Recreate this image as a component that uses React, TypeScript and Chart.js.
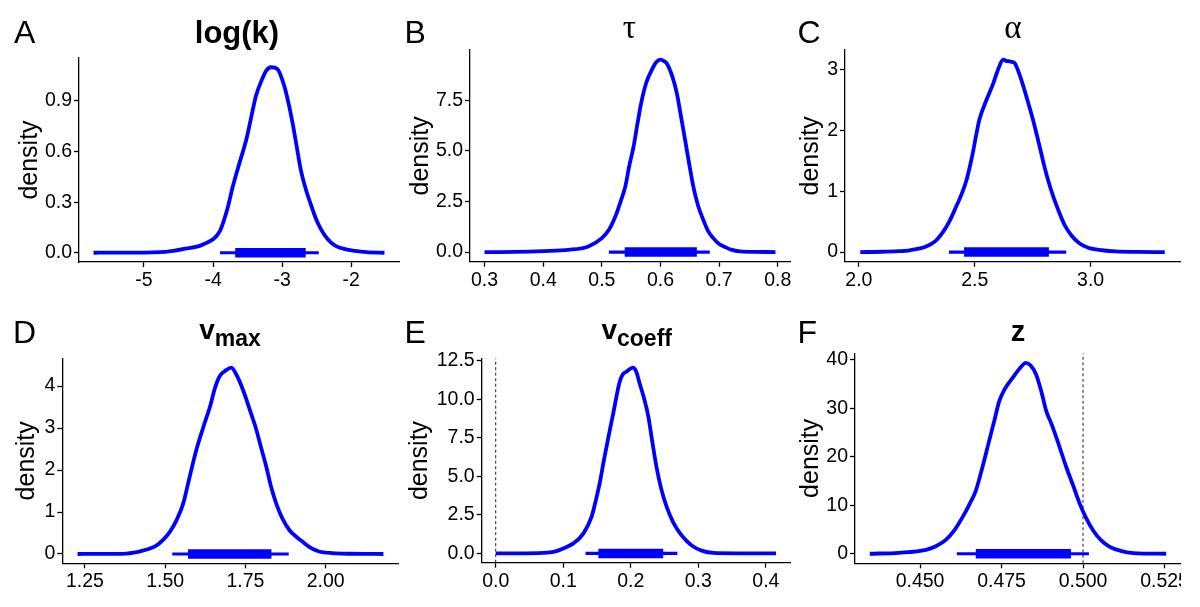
import React, { useEffect, useRef } from "react";
import { Chart, registerables } from "chart.js";

Chart.register(...registerables);

const FONT = "'Liberation Sans', Arial, sans-serif";
const SERIF = "'Liberation Serif', 'Times New Roman', serif";
const BLUE = "#0000ff";

// ---------- Panel A: log(k) ----------
const logkX = [-5.73, -5.2, -4.69, -4.4, -4.14, -3.9, -3.8, -3.71, -3.62, -3.52, -3.45, -3.38, -3.3, -3.23, -3.16, -3.07, -2.97, -2.91, -2.85, -2.79, -2.73, -2.66, -2.58, -2.51, -2.44, -2.34, -2.24, -2.02, -1.78, -1.52];
const logkY = [0, 0.0005, 0.005, 0.024, 0.05, 0.13, 0.25, 0.4, 0.53, 0.67, 0.8, 0.93, 1.02, 1.08, 1.1, 1.09, 0.99, 0.89, 0.77, 0.63, 0.49, 0.38, 0.28, 0.2, 0.14, 0.08, 0.043, 0.015, 0.003, 0];
const logkThin = [-3.9, -2.47];
const logkThick = [-3.68, -2.66];
const logkXTicks = [-5, -4, -3, -2];
const logkYTicks = [0, 0.3, 0.6, 0.9];

// ---------- Panel B: tau ----------
const tauX = [0.3, 0.35, 0.401, 0.443, 0.477, 0.5, 0.512, 0.523, 0.532, 0.54, 0.547, 0.554, 0.561, 0.568, 0.576, 0.585, 0.593, 0.6, 0.606, 0.611, 0.62, 0.628, 0.635, 0.642, 0.649, 0.656, 0.664, 0.673, 0.681, 0.69, 0.7, 0.71, 0.72, 0.736, 0.76, 0.796];
const tauY = [0, 0.01, 0.05, 0.11, 0.28, 0.69, 1.1, 1.76, 2.5, 3.24, 4.3, 5.2, 6.4, 7.5, 8.4, 9.0, 9.4, 9.52, 9.45, 9.32, 8.7, 7.84, 6.7, 5.54, 4.35, 3.24, 2.3, 1.59, 1.05, 0.69, 0.4, 0.25, 0.12, 0.03, 0.01, 0];
const tauThin = [0.512, 0.684];
const tauThick = [0.539, 0.662];
const tauXTicks = [0.3, 0.4, 0.5, 0.6, 0.7, 0.8];
const tauYTicks = [0, 2.5, 5, 7.5];

// ---------- Panel C: alpha ----------
const alphaX = [2.006, 2.1, 2.17, 2.22, 2.29, 2.33, 2.365, 2.39, 2.42, 2.445, 2.465, 2.49, 2.505, 2.52, 2.55, 2.58, 2.6, 2.623, 2.636, 2.651, 2.663, 2.673, 2.7, 2.723, 2.75, 2.78, 2.8, 2.816, 2.84, 2.866, 2.89, 2.92, 2.95, 2.99, 3.05, 3.11, 3.2, 3.32];
const alphaY = [0, 0.005, 0.015, 0.03, 0.09, 0.18, 0.34, 0.5, 0.75, 0.97, 1.19, 1.6, 1.9, 2.18, 2.5, 2.78, 3.0, 3.17, 3.15, 3.14, 3.13, 3.11, 2.85, 2.56, 2.2, 1.74, 1.42, 1.19, 0.9, 0.64, 0.43, 0.26, 0.15, 0.07, 0.03, 0.01, 0.003, 0];
const alphaThin = [2.389, 2.895];
const alphaThick = [2.454, 2.82];
const alphaXTicks = [2.0, 2.5, 3.0];
const alphaYTicks = [0, 1, 2, 3];

// ---------- Panel D: v_max ----------
const vmaxX = [1.227, 1.3, 1.378, 1.43, 1.472, 1.495, 1.514, 1.535, 1.556, 1.575, 1.597, 1.62, 1.64, 1.655, 1.67, 1.69, 1.706, 1.72, 1.742, 1.763, 1.784, 1.8, 1.815, 1.83, 1.846, 1.865, 1.888, 1.91, 1.93, 1.955, 1.98, 2.02, 2.076, 2.18];
const vmaxY = [0, 0.002, 0.01, 0.08, 0.2, 0.35, 0.52, 0.8, 1.2, 1.8, 2.48, 3.05, 3.52, 3.95, 4.24, 4.38, 4.44, 4.3, 3.92, 3.45, 2.96, 2.5, 2.08, 1.6, 1.2, 0.85, 0.56, 0.4, 0.28, 0.14, 0.06, 0.02, 0.005, 0];
const vmaxThin = [1.522, 1.885];
const vmaxThick = [1.571, 1.831];
const vmaxXTicks = [1.25, 1.5, 1.75, 2.0];
const vmaxYTicks = [0, 1, 2, 3, 4];

// ---------- Panel E: v_coeff ----------
const vcoeffX = [0, 0.04, 0.076, 0.09, 0.1, 0.115, 0.13, 0.142, 0.148, 0.154, 0.16, 0.167, 0.175, 0.183, 0.188, 0.194, 0.203, 0.208, 0.213, 0.22, 0.226, 0.232, 0.238, 0.245, 0.253, 0.263, 0.273, 0.283, 0.293, 0.305, 0.322, 0.36, 0.415];
const vcoeffY = [0, 0.005, 0.05, 0.15, 0.32, 0.65, 1.3, 2.38, 3.4, 4.55, 6.0, 7.57, 9.3, 11.04, 11.6, 11.8, 12.05, 11.8, 11.04, 10.0, 8.87, 7.2, 5.62, 4.2, 3.03, 2.0, 1.3, 0.8, 0.43, 0.18, 0.03, 0.005, 0];
const vcoeffThin = [0.133, 0.269];
const vcoeffThick = [0.152, 0.248];
const vcoeffXTicks = [0, 0.1, 0.2, 0.3, 0.4];
const vcoeffYTicks = [0, 2.5, 5, 7.5, 10, 12.5];
const vcoeffRef = [0];

// ---------- Panel F: z ----------
const zX = [0.4346, 0.4435, 0.4518, 0.455, 0.458, 0.4605, 0.463, 0.465, 0.4671, 0.469, 0.4712, 0.4728, 0.4743, 0.476, 0.4784, 0.4805, 0.4825, 0.484, 0.4856, 0.4872, 0.4887, 0.4902, 0.4918, 0.4933, 0.4949, 0.497, 0.499, 0.501, 0.5031, 0.5055, 0.5082, 0.5115, 0.5154, 0.5255];
const zY = [0, 0.2, 0.8, 1.6, 2.9, 4.8, 7.5, 10, 13, 17.5, 23.3, 27.5, 31.5, 34, 36.3, 38.2, 39.4, 38.8, 37, 33.5, 29.5, 27, 24, 21, 17.8, 14, 10.3, 7.3, 4.8, 2.8, 1.4, 0.6, 0.15, 0];
const zThin = [0.4613, 0.5018];
const zThick = [0.4671, 0.4963];
const zXTicks = [0.45, 0.475, 0.5, 0.525];
const zYTicks = [0, 10, 20, 30, 40];
const zRef = [0.5];

interface Lay {
  left: number;
  top: number;
  w: number;
  h: number;
  yAxisW: number;
  xAxisH: number;
  padTop: number;
  padRight: number;
  titlePad: number;
}

interface PanelProps {
  xs: number[];
  ys: number[];
  thin: number[];
  thick: number[];
  xTicks: number[];
  yTicks: number[];
  xDec: number;
  yDec: number;
  refs: number[];
  lay: Lay;
}

const TICK_SIZE = 19.5;
const AXIS_TITLE_SIZE = 25;

function Panel({ xs, ys, thin, thick, xTicks, yTicks, xDec, yDec, refs, lay }: PanelProps) {
  const ref = useRef<HTMLCanvasElement>(null);
  useEffect(() => {
    const canvas = ref.current;
    if (!canvas) return;
    const yPeak = Math.max(...ys);
    const x0 = Math.min(...xs);
    const x1 = Math.max(...xs);
    const span = x1 - x0;
    const xMin = x0 - 0.05 * span;
    const xMax = x1 + 0.05 * span;
    const yMin = -0.05 * yPeak;
    const yMax = yPeak * 1.05;
    const datasets: any[] = [
      {
        data: xs.map((x, i) => ({ x, y: ys[i] })),
        borderColor: BLUE,
        borderWidth: 3.8,
        pointRadius: 0,
        cubicInterpolationMode: "monotone",
        fill: false,
        borderJoinStyle: "round",
      },
      {
        data: [
          { x: thick[0], y: 0 },
          { x: thick[1], y: 0 },
        ],
        borderColor: BLUE,
        borderWidth: 9.5,
        pointRadius: 0,
        borderCapStyle: "butt",
        fill: false,
      },
      {
        data: [
          { x: thin[0], y: 0 },
          { x: thin[1], y: 0 },
        ],
        borderColor: BLUE,
        borderWidth: 3.2,
        pointRadius: 0,
        borderCapStyle: "butt",
        fill: false,
      },
      ...refs.map((r) => ({
        data: [
          { x: r, y: yMin },
          { x: r, y: yMax },
        ],
        borderColor: "#222",
        borderWidth: 1,
        borderDash: [3, 2.5],
        pointRadius: 0,
        fill: false,
      })),
    ];
    const axisCommon = {
      border: { display: true, color: "#000", width: 1.3 },
      grid: {
        display: true,
        drawOnChartArea: false,
        drawTicks: true,
        tickLength: 5,
        tickWidth: 1.3,
        color: "#000",
        tickColor: "#000",
      },
    };
    const chart = new Chart(canvas, {
      type: "line",
      data: { datasets },
      options: {
        animation: false,
        responsive: false,
        maintainAspectRatio: false,
        events: [],
        layout: { padding: { left: 0, top: lay.padTop, right: lay.padRight, bottom: 0 } },
        plugins: {
          legend: { display: false },
          tooltip: { enabled: false },
          title: { display: false },
        },
        scales: {
          x: {
            type: "linear",
            position: "bottom",
            min: xMin,
            max: xMax,
            ...axisCommon,
            ticks: {
              color: "#000",
              font: { family: FONT, size: TICK_SIZE },
              padding: 2,
              autoSkip: false,
              maxRotation: 0,
              minRotation: 0,
              callback: (v: any) => Number(v).toFixed(xDec),
            },
            afterBuildTicks: (s: any) => {
              s.ticks = xTicks.map((v) => ({ value: v }));
            },
            afterFit: (s: any) => {
              s.height = lay.xAxisH;
              s.paddingLeft = 0;
              s.paddingRight = 0;
            },
          },
          y: {
            type: "linear",
            position: "left",
            min: yMin,
            max: yMax,
            ...axisCommon,
            ticks: {
              color: "#000",
              font: { family: FONT, size: TICK_SIZE },
              padding: 2,
              autoSkip: false,
              callback: (v: any) => Number(v).toFixed(yDec),
            },
            title: {
              display: true,
              text: "density",
              color: "#000",
              font: { family: FONT, size: AXIS_TITLE_SIZE, lineHeight: 1.2 },
              padding: { top: lay.titlePad, bottom: 0 },
            },
            afterBuildTicks: (s: any) => {
              s.ticks = yTicks.map((v) => ({ value: v }));
            },
            afterFit: (s: any) => {
              s.width = lay.yAxisW;
              s.paddingTop = 0;
              s.paddingBottom = 0;
            },
          },
        },
      } as any,
    });
    return () => chart.destroy();
  }, []);
  return (
    <canvas
      ref={ref}
      width={lay.w}
      height={lay.h}
      style={{ position: "absolute", left: lay.left, top: lay.top, width: lay.w, height: lay.h }}
    />
  );
}

const ASC_SANS = 0.8465;
const ASC_SERIF = 0.8375;

function Letter({ text, left, baseline }: { text: string; left: number; baseline: number }) {
  const size = 32;
  return (
    <div
      style={{
        position: "absolute",
        left,
        top: baseline - ASC_SANS * size,
        font: `${size}px ${FONT}`,
        lineHeight: `${size}px`,
        color: "#000",
        whiteSpace: "nowrap",
      }}
    >
      {text}
    </div>
  );
}

function Title({
  cx,
  baseline,
  size,
  serif,
  bold,
  children,
}: {
  cx: number;
  baseline: number;
  size: number;
  serif?: boolean;
  bold?: boolean;
  children: React.ReactNode;
}) {
  return (
    <div
      style={{
        position: "absolute",
        left: cx - 150,
        width: 300,
        textAlign: "center",
        top: baseline - (serif ? ASC_SERIF : ASC_SANS) * size,
        fontFamily: serif ? SERIF : FONT,
        fontSize: size,
        fontWeight: bold ? "bold" : "normal",
        lineHeight: `${size}px`,
        color: "#000",
        whiteSpace: "nowrap",
      }}
    >
      {children}
    </div>
  );
}

const subStyle: React.CSSProperties = {
  fontSize: 23,
  lineHeight: 0,
  position: "relative",
  top: 6.5,
};

export default function App() {
  return (
    <div
      style={{
        position: "absolute",
        left: 0,
        top: 0,
        width: 1200,
        height: 607,
        overflow: "hidden",
        background: "#fff",
      }}
    >
      <Panel
        xs={logkX}
        ys={logkY}
        thin={logkThin}
        thick={logkThick}
        xTicks={logkXTicks}
        yTicks={logkYTicks}
        xDec={0}
        yDec={1}
        refs={[]}
        lay={{ left: 0, top: 0, w: 400, h: 303, yAxisW: 79, xAxisH: 41, padTop: 58, padRight: 1, titlePad: 15 }}
      />
      <Panel
        xs={tauX}
        ys={tauY}
        thin={tauThin}
        thick={tauThick}
        xTicks={tauXTicks}
        yTicks={tauYTicks}
        xDec={1}
        yDec={1}
        refs={[]}
        lay={{ left: 400, top: 0, w: 400, h: 303, yAxisW: 70, xAxisH: 41.3, padTop: 50, padRight: 10, titlePad: 5.7 }}
      />
      <Panel
        xs={alphaX}
        ys={alphaY}
        thin={alphaThin}
        thick={alphaThick}
        xTicks={alphaXTicks}
        yTicks={alphaYTicks}
        xDec={1}
        yDec={0}
        refs={[]}
        lay={{ left: 790, top: 0, w: 391, h: 303, yAxisW: 55, xAxisH: 41.3, padTop: 50, padRight: 1, titlePad: 6 }}
      />
      <Panel
        xs={vmaxX}
        ys={vmaxY}
        thin={vmaxThin}
        thick={vmaxThick}
        xTicks={vmaxXTicks}
        yTicks={vmaxYTicks}
        xDec={2}
        yDec={0}
        refs={[]}
        lay={{ left: 0, top: 303, w: 400, h: 304, yAxisW: 62.3, xAxisH: 43.7, padTop: 55.3, padRight: 1.3, titlePad: 12.5 }}
      />
      <Panel
        xs={vcoeffX}
        ys={vcoeffY}
        thin={vcoeffThin}
        thick={vcoeffThick}
        xTicks={vcoeffXTicks}
        yTicks={vcoeffYTicks}
        xDec={1}
        yDec={1}
        refs={vcoeffRef}
        lay={{ left: 400, top: 303, w: 400, h: 304, yAxisW: 81.7, xAxisH: 44.3, padTop: 55.3, padRight: 10, titlePad: 5 }}
      />
      <Panel
        xs={zX}
        ys={zY}
        thin={zThin}
        thick={zThick}
        xTicks={zXTicks}
        yTicks={zYTicks}
        xDec={3}
        yDec={0}
        refs={zRef}
        lay={{ left: 790, top: 303, w: 391, h: 304, yAxisW: 65, xAxisH: 43.7, padTop: 50.3, padRight: 0, titlePad: 5.8 }}
      />

      <Letter text="A" left={14} baseline={43.3} />
      <Letter text="B" left={404.5} baseline={43.3} />
      <Letter text="C" left={797.5} baseline={43.3} />
      <Letter text="D" left={13} baseline={343.3} />
      <Letter text="E" left={404.5} baseline={343.3} />
      <Letter text="F" left={797.5} baseline={343.3} />

      <Title cx={237} baseline={43.3} size={31} bold>
        log(k)
      </Title>
      <Title cx={629.3} baseline={38.3} size={33} serif>
        τ
      </Title>
      <Title cx={1013} baseline={38.3} size={33} serif>
        α
      </Title>
      <Title cx={230} baseline={340} size={28} bold>
        v<span style={subStyle}>max</span>
      </Title>
      <Title cx={636.7} baseline={340} size={28} bold>
        v<span style={subStyle}>coeff</span>
      </Title>
      <Title cx={1018} baseline={341.7} size={29} bold>
        z
      </Title>
    </div>
  );
}
